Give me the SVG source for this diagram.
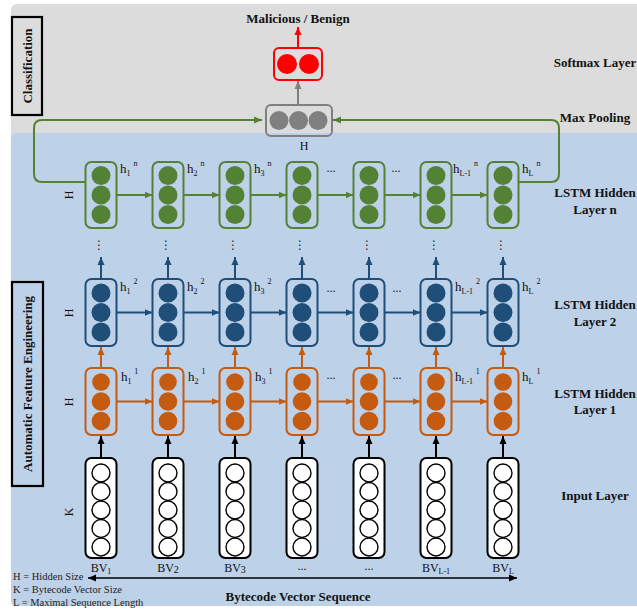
<svg xmlns="http://www.w3.org/2000/svg" width="637" height="613" viewBox="0 0 637 613">
<style>
text{font-family:"Liberation Serif","Times New Roman",serif;fill:#111}
.b{font-weight:bold;font-size:13px}
.m{text-anchor:middle}
.lbl{font-size:12px}
.hl{font-size:13px}
.sub{font-size:8px}
.sup{font-size:8px}
.leg{font-size:10.5px;fill:#222}
.vd{font-family:"DejaVu Sans",sans-serif;font-size:12px;text-anchor:middle;fill:#222}
.gbox{fill:none;stroke:#548235;stroke-width:2}
.bbox{fill:none;stroke:#1f4e79;stroke-width:2}
.obox{fill:none;stroke:#c55a11;stroke-width:2}
.ibox{fill:#fff;stroke:#000;stroke-width:2}
.gc{fill:#548235}
.bc{fill:#1f4e79}
.oc{fill:#c55a11}
.ic{fill:#fff;stroke:#000;stroke-width:1.4}
.gl{stroke:#548235;stroke-width:2;fill:none}
.bl{stroke:#1f4e79;stroke-width:2;fill:none}
.ol{stroke:#c55a11;stroke-width:2;fill:none}
.kl{stroke:#000;stroke-width:2;fill:none}
</style>
<defs>
<marker id="ag" markerUnits="userSpaceOnUse" markerWidth="8" markerHeight="8" refX="8" refY="4" orient="auto"><path d="M0,0.5 L8,4 L0,7.5 z" fill="#548235"/></marker>
<marker id="ab" markerUnits="userSpaceOnUse" markerWidth="8" markerHeight="8" refX="8" refY="4" orient="auto"><path d="M0,0.5 L8,4 L0,7.5 z" fill="#1f4e79"/></marker>
<marker id="ao" markerUnits="userSpaceOnUse" markerWidth="8" markerHeight="8" refX="8" refY="4" orient="auto"><path d="M0,0.5 L8,4 L0,7.5 z" fill="#c55a11"/></marker>
<marker id="ak" markerUnits="userSpaceOnUse" markerWidth="8" markerHeight="8" refX="8" refY="4" orient="auto-start-reverse"><path d="M0,0.5 L8,4 L0,7.5 z" fill="#000"/></marker>
<marker id="ay" markerUnits="userSpaceOnUse" markerWidth="8" markerHeight="8" refX="8" refY="4" orient="auto"><path d="M0,0.5 L8,4 L0,7.5 z" fill="#7f7f7f"/></marker>
<marker id="ar" markerUnits="userSpaceOnUse" markerWidth="8" markerHeight="8" refX="8" refY="4" orient="auto"><path d="M0,0.5 L8,4 L0,7.5 z" fill="#ff0000"/></marker>
</defs>

<!-- panels -->
<rect x="11" y="4" width="640" height="136" rx="6" fill="#dcdcdc"/>
<rect x="11" y="133" width="640" height="473" rx="5" fill="#bdd1e9"/>

<!-- side labels -->
<g id="classification-label">
<rect x="12" y="17" width="30" height="98" fill="none" stroke="#000" stroke-width="2.2"/>
<text class="b m" transform="translate(27,66) rotate(-90)" dy="4.5">Classification</text>
</g>
<g id="afe-label">
<rect x="12" y="282" width="31" height="204" fill="none" stroke="#000" stroke-width="2.2"/>
<text class="b m" transform="translate(27.5,384) rotate(-90)" dy="4.5">Automatic Feature Engineering</text>
</g>
<g id="dim-labels">
<text class="lbl m" transform="translate(69,195) rotate(-90)" dy="4">H</text>
<text class="lbl m" transform="translate(69,313) rotate(-90)" dy="4">H</text>
<text class="lbl m" transform="translate(69,402) rotate(-90)" dy="4">H</text>
<text class="lbl m" transform="translate(69,512) rotate(-90)" dy="4">K</text>
<text class="lbl m" x="304" y="150">H</text>
</g>

<!-- right layer labels -->
<g id="layer-labels">
<text class="b m" x="298" y="23">Malicious / Benign</text>
<text class="b m" x="595" y="67">Softmax Layer</text>
<text class="b m" x="595" y="122">Max Pooling</text>
<text class="b m" x="595" y="197">LSTM Hidden</text>
<text class="b m" x="595" y="214">Layer n</text>
<text class="b m" x="595" y="309">LSTM Hidden</text>
<text class="b m" x="595" y="326">Layer 2</text>
<text class="b m" x="595" y="398">LSTM Hidden</text>
<text class="b m" x="595" y="414">Layer 1</text>
<text class="b m" x="595" y="500">Input Layer</text>
</g>

<!-- connectors -->
<g id="connectors">
<path class="gl" d="M86,182 H42 Q34,182 34,174 V128 Q34,120 42,120 H262" marker-end="url(#ag)"/>
<path class="gl" d="M519,182 H551 Q559,182 559,174 V128 Q559,120 551,120 H333" marker-end="url(#ag)"/>
<line x1="298" y1="105" x2="298" y2="81" stroke="#7f7f7f" stroke-width="2" marker-end="url(#ay)"/>
<line x1="298" y1="48" x2="298" y2="27" stroke="#ff0000" stroke-width="2" marker-end="url(#ar)"/>
<!-- green horizontal -->
<line class="gl" x1="116.5" y1="195" x2="152.5" y2="195" marker-end="url(#ag)"/>
<line class="gl" x1="183.5" y1="195" x2="219.5" y2="195" marker-end="url(#ag)"/>
<line class="gl" x1="250.5" y1="195" x2="286.5" y2="195" marker-end="url(#ag)"/>
<line class="gl" x1="317.5" y1="195" x2="353.5" y2="195" marker-end="url(#ag)"/>
<line class="gl" x1="384.5" y1="195" x2="420.5" y2="195" marker-end="url(#ag)"/>
<line class="gl" x1="451.5" y1="195" x2="487.5" y2="195" marker-end="url(#ag)"/>
<!-- blue horizontal -->
<line class="bl" x1="116.5" y1="312.5" x2="152.5" y2="312.5" marker-end="url(#ab)"/>
<line class="bl" x1="183.5" y1="312.5" x2="219.5" y2="312.5" marker-end="url(#ab)"/>
<line class="bl" x1="250.5" y1="312.5" x2="286.5" y2="312.5" marker-end="url(#ab)"/>
<line class="bl" x1="317.5" y1="312.5" x2="353.5" y2="312.5" marker-end="url(#ab)"/>
<line class="bl" x1="384.5" y1="312.5" x2="420.5" y2="312.5" marker-end="url(#ab)"/>
<line class="bl" x1="451.5" y1="312.5" x2="487.5" y2="312.5" marker-end="url(#ab)"/>
<!-- orange horizontal -->
<line class="ol" x1="116.5" y1="401.5" x2="152.5" y2="401.5" marker-end="url(#ao)"/>
<line class="ol" x1="183.5" y1="401.5" x2="219.5" y2="401.5" marker-end="url(#ao)"/>
<line class="ol" x1="250.5" y1="401.5" x2="286.5" y2="401.5" marker-end="url(#ao)"/>
<line class="ol" x1="317.5" y1="401.5" x2="353.5" y2="401.5" marker-end="url(#ao)"/>
<line class="ol" x1="384.5" y1="401.5" x2="420.5" y2="401.5" marker-end="url(#ao)"/>
<line class="ol" x1="451.5" y1="401.5" x2="487.5" y2="401.5" marker-end="url(#ao)"/>
<!-- blue up -->
<line class="bl" x1="101" y1="279" x2="101" y2="257" marker-end="url(#ab)"/>
<line class="bl" x1="168" y1="279" x2="168" y2="257" marker-end="url(#ab)"/>
<line class="bl" x1="235" y1="279" x2="235" y2="257" marker-end="url(#ab)"/>
<line class="bl" x1="302" y1="279" x2="302" y2="257" marker-end="url(#ab)"/>
<line class="bl" x1="369" y1="279" x2="369" y2="257" marker-end="url(#ab)"/>
<line class="bl" x1="436" y1="279" x2="436" y2="257" marker-end="url(#ab)"/>
<line class="bl" x1="503" y1="279" x2="503" y2="257" marker-end="url(#ab)"/>
<!-- orange up -->
<line class="ol" x1="101" y1="368" x2="101" y2="347" marker-end="url(#ao)"/>
<line class="ol" x1="168" y1="368" x2="168" y2="347" marker-end="url(#ao)"/>
<line class="ol" x1="235" y1="368" x2="235" y2="347" marker-end="url(#ao)"/>
<line class="ol" x1="302" y1="368" x2="302" y2="347" marker-end="url(#ao)"/>
<line class="ol" x1="369" y1="368" x2="369" y2="347" marker-end="url(#ao)"/>
<line class="ol" x1="436" y1="368" x2="436" y2="347" marker-end="url(#ao)"/>
<line class="ol" x1="503" y1="368" x2="503" y2="347" marker-end="url(#ao)"/>
<!-- input up -->
<line class="kl" x1="101" y1="458" x2="101" y2="436" marker-end="url(#ak)"/>
<line class="kl" x1="168" y1="458" x2="168" y2="436" marker-end="url(#ak)"/>
<line class="kl" x1="235" y1="458" x2="235" y2="436" marker-end="url(#ak)"/>
<line class="kl" x1="302" y1="458" x2="302" y2="436" marker-end="url(#ak)"/>
<line class="kl" x1="369" y1="458" x2="369" y2="436" marker-end="url(#ak)"/>
<line class="kl" x1="436" y1="458" x2="436" y2="436" marker-end="url(#ak)"/>
<line class="kl" x1="503" y1="458" x2="503" y2="436" marker-end="url(#ak)"/>
<!-- sequence arrow -->
<line x1="88" y1="578" x2="517" y2="578" stroke="#000" stroke-width="1.6" marker-start="url(#ak)" marker-end="url(#ak)"/>
</g>

<!-- output nodes -->
<g id="softmax">
<rect x="274" y="48" width="48" height="32" rx="5" fill="none" stroke="#ff0000" stroke-width="2"/>
<circle cx="287" cy="64" r="10" fill="#ff0000"/>
<circle cx="309" cy="64" r="10" fill="#ff0000"/>
</g>
<g id="maxpool">
<rect x="266" y="105" width="66" height="31" rx="5" fill="none" stroke="#7f7f7f" stroke-width="2"/>
<circle cx="279" cy="120.5" r="9.5" fill="#808080"/>
<circle cx="298.5" cy="120.5" r="9.5" fill="#808080"/>
<circle cx="318" cy="120.5" r="9.5" fill="#808080"/>
</g>

<!-- LSTM layer n (green) -->
<g id="green-1"><rect class="gbox" x="85.5" y="162" width="31" height="66" rx="6"/><circle class="gc" cx="101" cy="175.5" r="9.5"/><circle class="gc" cx="101" cy="195" r="9.5"/><circle class="gc" cx="101" cy="214.5" r="9.5"/></g>
<g id="green-2"><rect class="gbox" x="152.5" y="162" width="31" height="66" rx="6"/><circle class="gc" cx="168" cy="175.5" r="9.5"/><circle class="gc" cx="168" cy="195" r="9.5"/><circle class="gc" cx="168" cy="214.5" r="9.5"/></g>
<g id="green-3"><rect class="gbox" x="219.5" y="162" width="31" height="66" rx="6"/><circle class="gc" cx="235" cy="175.5" r="9.5"/><circle class="gc" cx="235" cy="195" r="9.5"/><circle class="gc" cx="235" cy="214.5" r="9.5"/></g>
<g id="green-4"><rect class="gbox" x="286.5" y="162" width="31" height="66" rx="6"/><circle class="gc" cx="302" cy="175.5" r="9.5"/><circle class="gc" cx="302" cy="195" r="9.5"/><circle class="gc" cx="302" cy="214.5" r="9.5"/></g>
<g id="green-5"><rect class="gbox" x="353.5" y="162" width="31" height="66" rx="6"/><circle class="gc" cx="369" cy="175.5" r="9.5"/><circle class="gc" cx="369" cy="195" r="9.5"/><circle class="gc" cx="369" cy="214.5" r="9.5"/></g>
<g id="green-6"><rect class="gbox" x="420.5" y="162" width="31" height="66" rx="6"/><circle class="gc" cx="436" cy="175.5" r="9.5"/><circle class="gc" cx="436" cy="195" r="9.5"/><circle class="gc" cx="436" cy="214.5" r="9.5"/></g>
<g id="green-7"><rect class="gbox" x="487.5" y="162" width="31" height="66" rx="6"/><circle class="gc" cx="503" cy="175.5" r="9.5"/><circle class="gc" cx="503" cy="195" r="9.5"/><circle class="gc" cx="503" cy="214.5" r="9.5"/></g>

<!-- LSTM layer 2 (blue) -->
<g id="blue-1"><rect class="bbox" x="85.5" y="279" width="31" height="67" rx="6"/><circle class="bc" cx="101" cy="293" r="9.5"/><circle class="bc" cx="101" cy="312.5" r="9.5"/><circle class="bc" cx="101" cy="332" r="9.5"/></g>
<g id="blue-2"><rect class="bbox" x="152.5" y="279" width="31" height="67" rx="6"/><circle class="bc" cx="168" cy="293" r="9.5"/><circle class="bc" cx="168" cy="312.5" r="9.5"/><circle class="bc" cx="168" cy="332" r="9.5"/></g>
<g id="blue-3"><rect class="bbox" x="219.5" y="279" width="31" height="67" rx="6"/><circle class="bc" cx="235" cy="293" r="9.5"/><circle class="bc" cx="235" cy="312.5" r="9.5"/><circle class="bc" cx="235" cy="332" r="9.5"/></g>
<g id="blue-4"><rect class="bbox" x="286.5" y="279" width="31" height="67" rx="6"/><circle class="bc" cx="302" cy="293" r="9.5"/><circle class="bc" cx="302" cy="312.5" r="9.5"/><circle class="bc" cx="302" cy="332" r="9.5"/></g>
<g id="blue-5"><rect class="bbox" x="353.5" y="279" width="31" height="67" rx="6"/><circle class="bc" cx="369" cy="293" r="9.5"/><circle class="bc" cx="369" cy="312.5" r="9.5"/><circle class="bc" cx="369" cy="332" r="9.5"/></g>
<g id="blue-6"><rect class="bbox" x="420.5" y="279" width="31" height="67" rx="6"/><circle class="bc" cx="436" cy="293" r="9.5"/><circle class="bc" cx="436" cy="312.5" r="9.5"/><circle class="bc" cx="436" cy="332" r="9.5"/></g>
<g id="blue-7"><rect class="bbox" x="487.5" y="279" width="31" height="67" rx="6"/><circle class="bc" cx="503" cy="293" r="9.5"/><circle class="bc" cx="503" cy="312.5" r="9.5"/><circle class="bc" cx="503" cy="332" r="9.5"/></g>

<!-- LSTM layer 1 (orange) -->
<g id="orange-1"><rect class="obox" x="85.5" y="368" width="31" height="67" rx="6"/><circle class="oc" cx="101" cy="382" r="8.8"/><circle class="oc" cx="101" cy="401.5" r="9.3"/><circle class="oc" cx="101" cy="421" r="9.3"/></g>
<g id="orange-2"><rect class="obox" x="152.5" y="368" width="31" height="67" rx="6"/><circle class="oc" cx="168" cy="382" r="8.8"/><circle class="oc" cx="168" cy="401.5" r="9.3"/><circle class="oc" cx="168" cy="421" r="9.3"/></g>
<g id="orange-3"><rect class="obox" x="219.5" y="368" width="31" height="67" rx="6"/><circle class="oc" cx="235" cy="382" r="8.8"/><circle class="oc" cx="235" cy="401.5" r="9.3"/><circle class="oc" cx="235" cy="421" r="9.3"/></g>
<g id="orange-4"><rect class="obox" x="286.5" y="368" width="31" height="67" rx="6"/><circle class="oc" cx="302" cy="382" r="8.8"/><circle class="oc" cx="302" cy="401.5" r="9.3"/><circle class="oc" cx="302" cy="421" r="9.3"/></g>
<g id="orange-5"><rect class="obox" x="353.5" y="368" width="31" height="67" rx="6"/><circle class="oc" cx="369" cy="382" r="8.8"/><circle class="oc" cx="369" cy="401.5" r="9.3"/><circle class="oc" cx="369" cy="421" r="9.3"/></g>
<g id="orange-6"><rect class="obox" x="420.5" y="368" width="31" height="67" rx="6"/><circle class="oc" cx="436" cy="382" r="8.8"/><circle class="oc" cx="436" cy="401.5" r="9.3"/><circle class="oc" cx="436" cy="421" r="9.3"/></g>
<g id="orange-7"><rect class="obox" x="487.5" y="368" width="31" height="67" rx="6"/><circle class="oc" cx="503" cy="382" r="8.8"/><circle class="oc" cx="503" cy="401.5" r="9.3"/><circle class="oc" cx="503" cy="421" r="9.3"/></g>

<!-- input layer -->
<g id="input-1"><rect class="ibox" x="85.5" y="458" width="31" height="100" rx="6"/><circle class="ic" cx="101" cy="473" r="9"/><circle class="ic" cx="101" cy="491.5" r="9"/><circle class="ic" cx="101" cy="510" r="9"/><circle class="ic" cx="101" cy="528.5" r="9"/><circle class="ic" cx="101" cy="547" r="9"/></g>
<g id="input-2"><rect class="ibox" x="152.5" y="458" width="31" height="100" rx="6"/><circle class="ic" cx="168" cy="473" r="9"/><circle class="ic" cx="168" cy="491.5" r="9"/><circle class="ic" cx="168" cy="510" r="9"/><circle class="ic" cx="168" cy="528.5" r="9"/><circle class="ic" cx="168" cy="547" r="9"/></g>
<g id="input-3"><rect class="ibox" x="219.5" y="458" width="31" height="100" rx="6"/><circle class="ic" cx="235" cy="473" r="9"/><circle class="ic" cx="235" cy="491.5" r="9"/><circle class="ic" cx="235" cy="510" r="9"/><circle class="ic" cx="235" cy="528.5" r="9"/><circle class="ic" cx="235" cy="547" r="9"/></g>
<g id="input-4"><rect class="ibox" x="286.5" y="458" width="31" height="100" rx="6"/><circle class="ic" cx="302" cy="473" r="9"/><circle class="ic" cx="302" cy="491.5" r="9"/><circle class="ic" cx="302" cy="510" r="9"/><circle class="ic" cx="302" cy="528.5" r="9"/><circle class="ic" cx="302" cy="547" r="9"/></g>
<g id="input-5"><rect class="ibox" x="353.5" y="458" width="31" height="100" rx="6"/><circle class="ic" cx="369" cy="473" r="9"/><circle class="ic" cx="369" cy="491.5" r="9"/><circle class="ic" cx="369" cy="510" r="9"/><circle class="ic" cx="369" cy="528.5" r="9"/><circle class="ic" cx="369" cy="547" r="9"/></g>
<g id="input-6"><rect class="ibox" x="420.5" y="458" width="31" height="100" rx="6"/><circle class="ic" cx="436" cy="473" r="9"/><circle class="ic" cx="436" cy="491.5" r="9"/><circle class="ic" cx="436" cy="510" r="9"/><circle class="ic" cx="436" cy="528.5" r="9"/><circle class="ic" cx="436" cy="547" r="9"/></g>
<g id="input-7"><rect class="ibox" x="487.5" y="458" width="31" height="100" rx="6"/><circle class="ic" cx="503" cy="473" r="9"/><circle class="ic" cx="503" cy="491.5" r="9"/><circle class="ic" cx="503" cy="510" r="9"/><circle class="ic" cx="503" cy="528.5" r="9"/><circle class="ic" cx="503" cy="547" r="9"/></g>

<!-- hidden state labels -->
<g id="h-labels">
<text class="hl" x="120" y="173">h<tspan class="sub" dy="3">1</tspan><tspan class="sup" dx="3" dy="-10">n</tspan></text>
<text class="hl" x="187" y="173">h<tspan class="sub" dy="3">2</tspan><tspan class="sup" dx="3" dy="-10">n</tspan></text>
<text class="hl" x="254" y="173">h<tspan class="sub" dy="3">3</tspan><tspan class="sup" dx="3" dy="-10">n</tspan></text>
<text class="lbl m" x="331" y="172">...</text>
<text class="lbl m" x="396" y="172">...</text>
<text class="hl" x="453" y="173">h<tspan class="sub" dy="3">L-1</tspan><tspan class="sup" dx="3" dy="-10">n</tspan></text>
<text class="hl" x="522" y="173">h<tspan class="sub" dy="3">L</tspan><tspan class="sup" dx="3" dy="-10">n</tspan></text>

<text class="hl" x="120" y="291">h<tspan class="sub" dy="3">1</tspan><tspan class="sup" dx="3" dy="-10">2</tspan></text>
<text class="hl" x="187" y="291">h<tspan class="sub" dy="3">2</tspan><tspan class="sup" dx="3" dy="-10">2</tspan></text>
<text class="hl" x="254" y="291">h<tspan class="sub" dy="3">3</tspan><tspan class="sup" dx="3" dy="-10">2</tspan></text>
<text class="lbl m" x="331" y="292">...</text>
<text class="lbl m" x="397" y="292">...</text>
<text class="hl" x="455" y="291">h<tspan class="sub" dy="3">L-1</tspan><tspan class="sup" dx="3" dy="-10">2</tspan></text>
<text class="hl" x="522" y="291">h<tspan class="sub" dy="3">L</tspan><tspan class="sup" dx="3" dy="-10">2</tspan></text>

<text class="hl" x="121" y="381">h<tspan class="sub" dy="3">1</tspan><tspan class="sup" dx="3" dy="-10">1</tspan></text>
<text class="hl" x="188" y="381">h<tspan class="sub" dy="3">2</tspan><tspan class="sup" dx="3" dy="-10">1</tspan></text>
<text class="hl" x="255" y="381">h<tspan class="sub" dy="3">3</tspan><tspan class="sup" dx="3" dy="-10">1</tspan></text>
<text class="lbl m" x="331" y="379">...</text>
<text class="lbl m" x="397" y="379">...</text>
<text class="hl" x="455" y="381">h<tspan class="sub" dy="3">L-1</tspan><tspan class="sup" dx="3" dy="-10">1</tspan></text>
<text class="hl" x="522" y="381">h<tspan class="sub" dy="3">L</tspan><tspan class="sup" dx="3" dy="-10">1</tspan></text>
</g>

<!-- vertical ellipses -->
<g id="vdots">
<text class="vd" x="99" y="249">⋮</text>
<text class="vd" x="166" y="249">⋮</text>
<text class="vd" x="233" y="249">⋮</text>
<text class="vd" x="300" y="249">⋮</text>
<text class="vd" x="367" y="249">⋮</text>
<text class="vd" x="434" y="249">⋮</text>
<text class="vd" x="501" y="249">⋮</text>
</g>

<!-- bytecode vector labels -->
<g id="bv-labels">
<text class="lbl m" x="101" y="572">BV<tspan class="sub" dy="2">1</tspan></text>
<text class="lbl m" x="168" y="572">BV<tspan font-size="10" dy="1">2</tspan></text>
<text class="lbl m" x="235" y="572">BV<tspan font-size="10" dy="1">3</tspan></text>
<text class="lbl m" x="302" y="570">...</text>
<text class="lbl m" x="369" y="570">...</text>
<text class="lbl m" x="436" y="572">BV<tspan class="sub" dy="2">L-1</tspan></text>
<text class="lbl m" x="503" y="572">BV<tspan class="sub" dy="2">L</tspan></text>
<text class="b m" x="298" y="601">Bytecode Vector Sequence</text>
</g>

<!-- legend -->
<g id="legend">
<text class="leg" x="13" y="580">H = Hidden Size</text>
<text class="leg" x="13" y="593">K = Bytecode Vector Size</text>
<text class="leg" x="13" y="606">L = Maximal Sequence Length</text>
</g>
</svg>
